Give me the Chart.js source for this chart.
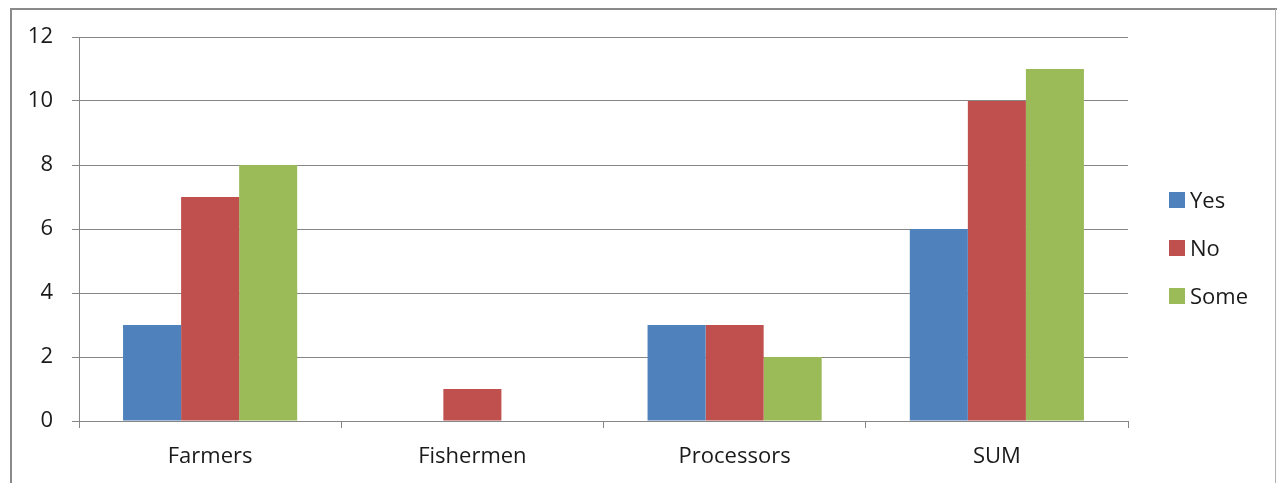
<!DOCTYPE html>
<html>
<head>
<meta charset="utf-8">
<script src="https://cdn.jsdelivr.net/npm/chart.js@4.4.0/dist/chart.umd.min.js"></script>
<style>
  html, body { margin: 0; padding: 0; background: #fff; }
  #wrap { width: 1277px; height: 483px; position: relative; }
</style>
</head>
<body>
<div id="wrap"><canvas id="chart"></canvas></div>
<script>
// chart data
const categories = ['Farmers', 'Fishermen', 'Processors', 'SUM'];
const yesValues = [3, 0, 3, 6];
const noValues = [7, 1, 3, 10];
const someValues = [8, 0, 2, 11];
const seriesNames = ['Yes', 'No', 'Some'];
const yTicks = [0, 2, 4, 6, 8, 10, 12];

const colors = ['#4F81BD', '#C0504D', '#9BBB59'];
const fontFamily = '"Open Sans", "Noto Sans", sans-serif';
const fontSize = 22;
const textColor = '#1a1a1a';

// frame around the chart (left, top, right edges)
const framePlugin = {
    id: 'frame',
    beforeDraw(chart) {
        const ctx = chart.ctx;
        ctx.save();
        ctx.strokeStyle = '#8a8a8a';
        ctx.lineWidth = 2;
        ctx.beginPath();
        ctx.moveTo(11, 483);
        ctx.lineTo(11, 9);
        ctx.lineTo(1277, 9);
        ctx.stroke();
        ctx.strokeStyle = '#b0b0b0';
        ctx.lineWidth = 1;
        ctx.beginPath();
        ctx.moveTo(1275.5, 9);
        ctx.lineTo(1275.5, 483);
        ctx.stroke();
        ctx.restore();
    }
};

// legend drawn on the right, Excel style
const legendPlugin = {
    id: 'sideLegend',
    afterDraw(chart) {
        const ctx = chart.ctx;
        ctx.save();
        ctx.font = fontSize + 'px ' + fontFamily;
        ctx.textBaseline = 'middle';
        chart.data.datasets.forEach((ds, i) => {
            const y = 200 + i * 48;
            ctx.fillStyle = ds.backgroundColor;
            ctx.fillRect(1169, y - 8, 16, 16);
            ctx.fillStyle = textColor;
            ctx.fillText(ds.label, 1190, y + 2);
        });
        ctx.restore();
    }
};

const ctx = document.getElementById('chart');
new Chart(ctx, {
    type: 'bar',
    data: {
        labels: categories,
        datasets: [yesValues, noValues, someValues].map((vals, i) => ({
            label: seriesNames[i],
            data: vals,
            backgroundColor: colors[i],
            borderWidth: 0,
            barPercentage: 1,
            categoryPercentage: 0.664
        }))
    },
    options: {
        responsive: true,
        maintainAspectRatio: false,
        animation: false,
        layout: { padding: { left: 0, right: 149, top: 37, bottom: 0 } },
        plugins: {
            legend: { display: false },
            tooltip: { enabled: false }
        },
        scales: {
            x: {
                afterFit: (s) => { s.height = 62; },
                grid: {
                    offset: true,
                    drawOnChartArea: false,
                    drawTicks: true,
                    tickLength: 7,
                    color: '#868686'
                },
                border: { color: '#868686', width: 1 },
                ticks: {
                    padding: 16,
                    color: textColor,
                    font: { family: fontFamily, size: fontSize }
                }
            },
            y: {
                min: 0,
                max: 12,
                afterFit: (s) => { s.width = 79; },
                afterBuildTicks: (s) => { s.ticks = yTicks.map(v => ({ value: v })); },
                grid: {
                    color: '#868686',
                    lineWidth: 1,
                    drawTicks: true,
                    tickLength: 7
                },
                border: { color: '#868686', width: 1 },
                ticks: {
                    padding: 19,
                    color: textColor,
                    font: { family: fontFamily, size: fontSize }
                }
            }
        }
    },
    plugins: [framePlugin, legendPlugin]
});
</script>
</body>
</html>
